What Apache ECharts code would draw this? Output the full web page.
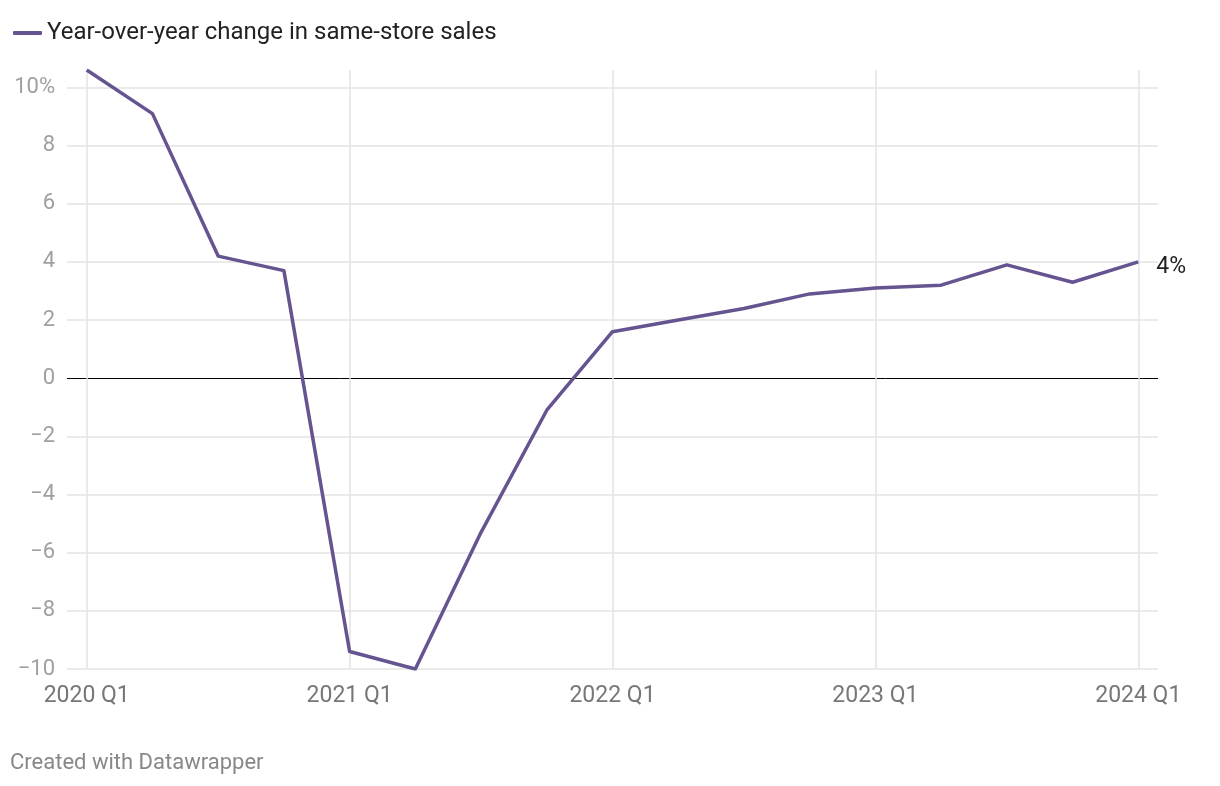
<!DOCTYPE html>
<html>
<head>
<meta charset="utf-8">
<script src="https://cdn.jsdelivr.net/npm/echarts@6/dist/echarts.min.js"></script>
<style>
html,body{margin:0;padding:0;background:#fff;}
#chart{width:1220px;height:786px;}
</style>
</head>
<body>
<div id="chart"></div>
<script>
const quarters = ['2020 Q1','2020 Q2','2020 Q3','2020 Q4','2021 Q1','2021 Q2','2021 Q3','2021 Q4','2022 Q1','2022 Q2','2022 Q3','2022 Q4','2023 Q1','2023 Q2','2023 Q3','2023 Q4','2024 Q1'];
const sameStoreSales = [10.6, 9.1, 4.2, 3.7, -9.4, -10.0, -5.3, -1.1, 1.6, 2.0, 2.4, 2.9, 3.1, 3.2, 3.9, 3.3, 4.0];
const xTickIndexes = [0, 4, 8, 12, 16];
const yTicks = [-10, -8, -6, -4, -2, 0, 2, 4, 6, 8, 10];
const seriesName = 'Year-over-year change in same-store sales';

const FONT = 'Roboto, "Noto Sans", sans-serif';
const lineColor = '#65548f';

const chart = echarts.init(document.getElementById('chart'), null, {renderer: 'canvas'});

const gridLines = yTicks.map(v => ({
  yAxis: v,
  lineStyle: {color: v === 0 ? '#000000' : '#e3e3e3', width: v === 0 ? 1 : 1.5, type: 'solid'}
})).concat(xTickIndexes.map(i => ({
  xAxis: i,
  lineStyle: {color: '#e3e3e3', width: 1.5, type: 'solid'}
})));

chart.setOption({
  animation: false,
  textStyle: {fontFamily: FONT},
  legend: {
    left: 8, top: 16,
    icon: 'roundRect',
    itemWidth: 29, itemHeight: 4,
    itemGap: 10,
    textStyle: {fontSize: 24, color: '#222222', fontFamily: FONT, padding: [0, 0, 0, 0]},
    data: [seriesName]
  },
  grid: {left: 67, right: 62, top: 70, bottom: 117, containLabel: false},
  xAxis: {
    type: 'value',
    min: -0.3, max: 16.3,
    axisLine: {show: false},
    axisTick: {show: false},
    splitLine: {show: false},
    axisLabel: {
      customValues: xTickIndexes,
      formatter: v => quarters[Math.round(v)] || '',
      color: '#777777', fontSize: 23, fontFamily: FONT, margin: 16
    }
  },
  yAxis: {
    type: 'value',
    min: -10, max: 10.6,
    axisLine: {show: false},
    axisTick: {show: false},
    splitLine: {show: false},
    axisLabel: {
      customValues: yTicks,
      formatter: v => v === 10 ? '10%' : (v < 0 ? '\u2212' + Math.abs(v) : String(v)),
      color: '#a0a0a0', fontSize: 22, fontFamily: FONT, margin: 12
    }
  },
  series: [
    {
      type: 'line',
      name: 'grid',
      data: [],
      z: 1,
      silent: true,
      markLine: {
        silent: true,
        symbol: ['none', 'none'],
        label: {show: false},
        emphasis: {disabled: true},
        data: gridLines
      }
    },
    {
      type: 'line',
      name: seriesName,
      z: 5,
      data: sameStoreSales.map((v, i) => [i, v]),
      showSymbol: false,
      symbol: 'none',
      lineStyle: {color: lineColor, width: 3.5, join: 'round'},
      itemStyle: {color: lineColor},
      endLabel: {
        show: true,
        distance: 18,
        offset: [0, 5],
        formatter: p => p.value[1] + '%',
        color: '#222222', fontSize: 23, fontFamily: FONT
      }
    }
  ],
  graphic: [
    {
      type: 'text',
      left: 10, top: 752,
      style: {text: 'Created with Datawrapper', fill: '#888888', font: '22px ' + FONT}
    }
  ]
});
</script>
</body>
</html>
